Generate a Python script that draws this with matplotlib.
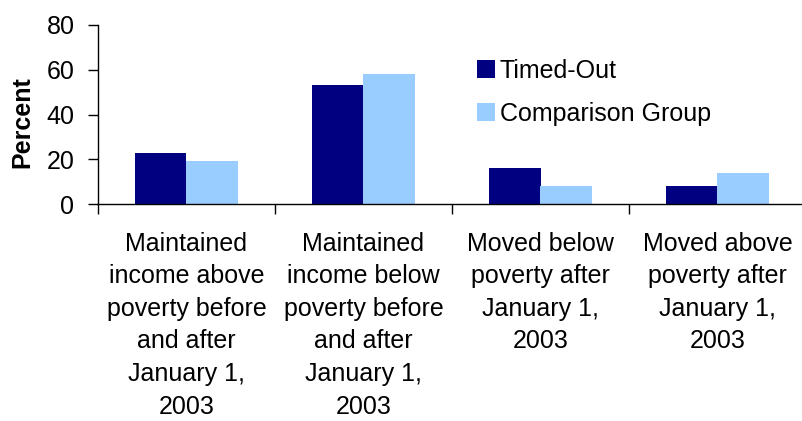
import numpy as np
import matplotlib
matplotlib.use("Agg")
import matplotlib.pyplot as plt

plt.rcParams['font.family'] = ['Liberation Sans', 'DejaVu Sans']

# Data
categories = [
    "Maintained\nincome above\npoverty before\nand after\nJanuary 1,\n2003",
    "Maintained\nincome below\npoverty before\nand after\nJanuary 1,\n2003",
    "Moved below\npoverty after\nJanuary 1,\n2003",
    "Moved above\npoverty after\nJanuary 1,\n2003",
]
timed_out = [23, 53, 16, 8]
comparison = [19, 58, 8, 14]
series_names = ["Timed-Out", "Comparison Group"]
y_ticks = [0, 20, 40, 60, 80]

W, H = 803, 421
fig = plt.figure(figsize=(W / 100, H / 100), dpi=100)
ax = fig.add_axes([98 / W, 1 - 204 / H, 708 / W, (204 - 25) / H])

x = np.arange(len(categories))
bw = 0.29
ax.bar(x - bw, timed_out, width=bw, align='edge', color='#000080',
       label=series_names[0])
ax.bar(x, comparison, width=bw, align='edge', color='#99CCFF',
       label=series_names[1])

ax.set_xlim(-0.5, len(categories) - 0.5)
ax.set_ylim(0, 80)
ax.set_yticks(y_ticks)

# ticks between categories, labels at centers
ax.set_xticks(np.arange(len(categories) + 1) - 0.5)
ax.set_xticklabels([])
ax.set_xticks(x, minor=True)
ax.set_xticklabels(categories, minor=True, fontsize=18, linespacing=1.45)
ax.tick_params(axis='x', which='major', direction='out', length=7, width=1)
ax.tick_params(axis='x', which='minor', length=0, pad=20)
ax.tick_params(axis='y', direction='out', length=7, width=1, pad=10,
               labelsize=18)

for s in ['top', 'right']:
    ax.spines[s].set_visible(False)
for s in ['left', 'bottom']:
    ax.spines[s].set_linewidth(1)

fig.text(22 / W, 1 - 122 / H, "Percent", rotation=90, fontsize=18,
         fontweight='bold', ha='center', va='center')

ax.legend(loc='upper left', bbox_to_anchor=(477 / W, 1 - 59 / H),
          bbox_transform=fig.transFigure, frameon=False, fontsize=18,
          handlelength=0.72, handleheight=0.72, handletextpad=0.2,
          labelspacing=0.75, borderpad=0, borderaxespad=0)

fig.savefig("out.png", dpi=100)
